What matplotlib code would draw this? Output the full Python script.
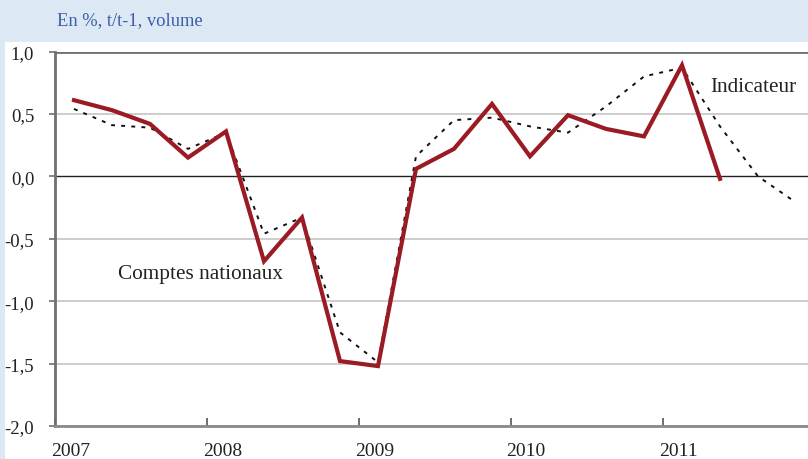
"""
PIB trimestriel : comptes nationaux vs indicateur (en %, t/t-1, volume)
"""

import matplotlib
matplotlib.use("Agg")
import matplotlib.pyplot as plt
import matplotlib.transforms as mtransforms
from matplotlib.ticker import FixedLocator, FuncFormatter, NullFormatter

# Données trimestrielles, 2007T1 -> 2011T4
years = [2007, 2008, 2009, 2010, 2011]
comptes_nationaux = [0.61, 0.53, 0.42, 0.15, 0.36, -0.68, -0.33, -1.48, -1.52,
                     0.06, 0.22, 0.58, 0.16, 0.49, 0.38, 0.32, 0.89, -0.02]
indicateur = [0.54, 0.41, 0.39, 0.22, 0.35, -0.46, -0.33, -1.25, -1.49,
              0.16, 0.45, 0.47, 0.40, 0.35, 0.56, 0.80, 0.87, 0.40, 0.00, -0.21]
y_ticks = [-2.0, -1.5, -1.0, -0.5, 0.0, 0.5, 1.0]

BG = "#dde8f5"
RED = "#9a1b23"
BLUE = "#3b5ea8"
SERIF = ["Liberation Serif", "DejaVu Serif"]

plt.rcParams["font.family"] = SERIF


def quarter_x(n):
    # point au milieu de chaque trimestre
    return [years[0] + (i + 0.5) / 4 for i in range(n)]


fig = plt.figure(figsize=(8.08, 4.60), dpi=100, facecolor=BG)

# panneau blanc sous le bandeau de titre
panel = fig.add_axes([5 / 808, 0, 1 - 5 / 808, (460 - 43) / 460])
panel.set_facecolor("white")
panel.set_xticks([])
panel.set_yticks([])
for s in panel.spines.values():
    s.set_visible(False)
panel.set_zorder(0)

fig.text(57 / 808, 1 - 21 / 460, "En %, t/t-1, volume", color=BLUE,
         fontsize=13.3, va="center", ha="left")

ax = fig.add_axes([55 / 808, (460 - 427) / 460, 1 - 55 / 808, (427 - 52.5) / 460])
ax.set_zorder(1)
ax.patch.set_alpha(0)

ax.set_xlim(2007, 2007 + 753 / 152)
ax.set_ylim(-2.0, 1.0)

# grille horizontale
for v in y_ticks:
    if v == 0.0:
        ax.axhline(v, color="#222222", lw=1.0, zorder=1)
    elif v == 1.0:
        ax.axhline(v, color="#707070", lw=2.0, zorder=1)
    else:
        ax.axhline(v, color="#c9c9c9", lw=1.3, zorder=1)

ax.plot(quarter_x(len(indicateur)), indicateur, color="#111111", lw=1.4,
        linestyle=(0, (2, 3.2)), zorder=2)
ax.plot(quarter_x(len(comptes_nationaux)), comptes_nationaux, color=RED,
        lw=3.0, solid_joinstyle="miter", zorder=3)

ax.text(2007.414, -0.78, "Comptes nationaux", fontsize=15.3, color="#222222",
        va="center", ha="left")
ax.text(2011.31, 0.72, "Indicateur", fontsize=15.3, color="#222222",
        va="center", ha="left")

# axes
for side in ("top", "right"):
    ax.spines[side].set_visible(False)
ax.spines["left"].set_color("#707070")
ax.spines["left"].set_linewidth(2.0)
ax.spines["bottom"].set_color("#8a8a8a")
ax.spines["bottom"].set_linewidth(2.0)

ax.yaxis.set_major_locator(FixedLocator(y_ticks))
ax.yaxis.set_major_formatter(FuncFormatter(lambda v, p: f"{v:.1f}".replace(".", ",")))
ax.tick_params(axis="y", direction="out", length=4, width=1.2, color="#707070",
               pad=11, labelsize=13.5, labelcolor="#222222")

# ticks d'années vers l'intérieur
ax.xaxis.set_major_locator(FixedLocator(years))
ax.xaxis.set_major_formatter(NullFormatter())
ax.tick_params(axis="x", which="major", direction="in", length=6, width=1.2,
               color="#555555")

# libellés d'années décalés à droite du tick, collés au bas de l'image
trans = mtransforms.blended_transform_factory(ax.transData, fig.transFigure)
for y in years:
    ax.text(y + 0.1, 0.0, str(y), transform=trans, fontsize=14,
            color="#222222", ha="center", va="bottom", clip_on=False)

fig.savefig("out.png", dpi=100, facecolor=BG)
